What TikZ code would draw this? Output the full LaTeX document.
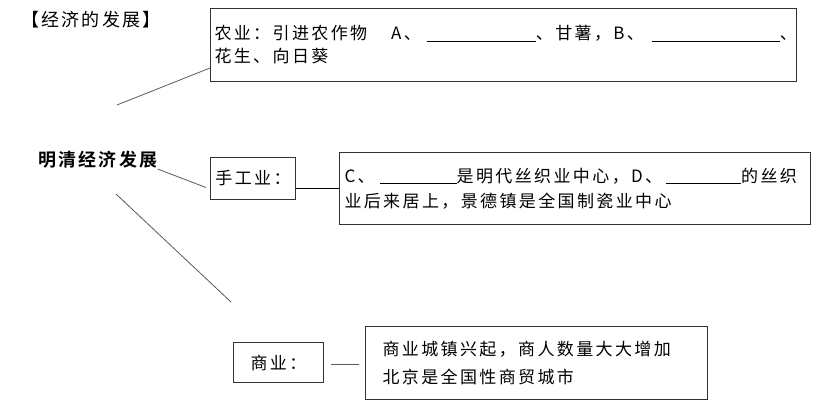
\documentclass[tikz,border=0pt]{standalone}
\usepackage{fontspec}
\usepackage{tikz}
\usetikzlibrary{positioning}
\setmainfont{Noto Sans CJK SC}
\newfontfamily\cjkbody[LetterSpace=14]{Noto Sans CJK SC}
\newfontfamily\cjktitle[LetterSpace=12]{Noto Sans CJK SC}
\newfontfamily\cjkhead[LetterSpace=12]{Noto Sans CJK SC Bold}
\newcommand\fillin[1]{\rule[-1.5pt]{#1pt}{0.8pt}}

\begin{document}
\begin{tikzpicture}[
                        x=1pt,
                        y=-1pt,
                        line width=0.8pt,
                        auto
                    ]
                    \tikzstyle{box}=[draw=black!80,line width=1pt,anchor=north west,
                                     inner ysep=0pt,align=left]
                    \tikzstyle{tag}=[draw=black!80,line width=1pt,anchor=north west,
                                     inner sep=0pt,font={\cjkbody\fontsize{17pt}{20pt}\selectfont}]
                    \tikzstyle{link}=[draw=black!65]

                    \useasboundingbox (0,0) rectangle (818,410);

                    \node[anchor=west,inner sep=0pt,font={\cjktitle\fontsize{18pt}{20pt}\selectfont}]
                        (title) at (21,20) {【经济的发展】};
                    \node[anchor=west,inner sep=0pt,font={\cjkhead\fontsize{18pt}{20pt}\selectfont}]
                        (fazhan) at (38,160) {明清经济发展};

                    \node[box,text width=578pt,inner xsep=4pt,minimum height=73pt,
                          font={\cjkbody\fontsize{17pt}{23pt}\selectfont}] (nongye) at (210,8)
                        {\mbox{农业：引进农作物\hspace{24pt}A、\hspace{6pt}\fillin{109}、甘薯，B、\hspace{8pt}\fillin{128}、}\\
                         花生、向日葵};
                    \node[tag,minimum width=85pt,minimum height=42pt] (shou) at (210,157) {手工业：};
                    \node[box,text width=461pt,inner xsep=5pt,minimum height=72pt,
                          font={\cjkbody\fontsize{17pt}{25pt}\selectfont}] (shougong) at (339,152)
                        {\mbox{C、\hspace{5pt}\fillin{77}是明代丝织业中心，D、\hspace{4pt}\fillin{75}的丝织}\\
                         业后来居上，景德镇是全国制瓷业中心};
                    \node[tag,minimum width=90pt,minimum height=40pt] (shang) at (233,342) {商业：};
                    \node[box,text width=308pt,inner xsep=17pt,minimum height=73pt,
                          font={\cjkbody\fontsize{17pt}{28pt}\selectfont}] (shangye) at (365,326)
                        {商业城镇兴起，商人数量大大增加\\
                         北京是全国性商贸城市};

                    \coordinate (c1) at (117,105);
                    \coordinate (c2) at (116,194);
                    \coordinate (c3) at (231,302);

                    \draw[link] (c1) -- ([yshift=14pt]nongye.south west);
                    \draw[link] (fazhan.south east) -- ([xshift=-4pt,yshift=-9pt]shou.west);
                    \draw[link] (c2) -- (c3);
                    \draw[black] (shou.east |- shougong.west) -- (shougong.west);
                    \draw[link] ([xshift=7pt,yshift=-2pt]shang.east) -- ++(28,0);
                \end{tikzpicture}
\end{document}
